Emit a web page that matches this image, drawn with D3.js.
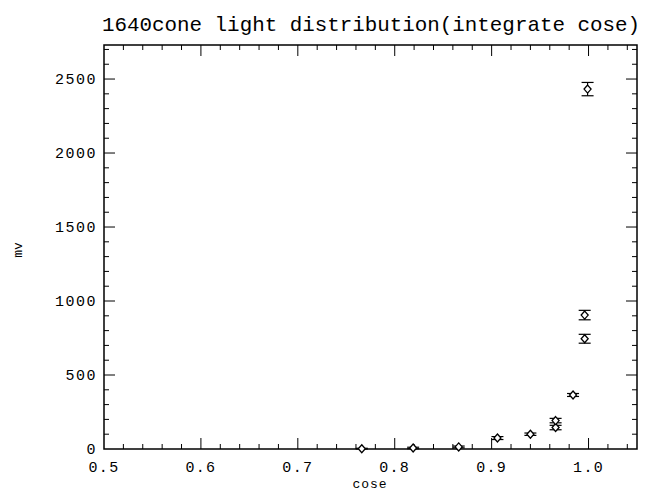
<!DOCTYPE html>
<html><head><meta charset="utf-8">
<script src="https://cdn.jsdelivr.net/npm/d3@7"></script>
<style>body{margin:0;background:#fff}svg{display:block}text{font-family:"Liberation Mono","DejaVu Sans Mono",monospace;fill:#000}</style>
</head><body>
<svg id="c" width="646" height="493"></svg>
<script>
const cosTheta = [0.766, 0.819, 0.866, 0.906, 0.940, 0.966, 0.966, 0.984, 0.996, 0.996, 0.999];
const mv       = [2, 7, 14, 74, 100, 145, 192, 365, 745, 905, 2432];
const mvErr    = [3, 5, 6, 10, 8, 15, 15, 10, 30, 32, 45];
const xTicks = [0.5, 0.6, 0.7, 0.8, 0.9, 1.0];
const xTickLabels = ["0.5", "0.6", "0.7", "0.8", "0.9", "1.0"];
const yTicks = [0, 500, 1000, 1500, 2000, 2500];
const title = "1640cone light distribution(integrate cose)";
const xTitle = "cose", yTitle = "mv";

const svg = d3.select("#c");
const L = 104, R = 637, T = 45, B = 449;
const x = d3.scaleLinear().domain([0.5, 1.05]).range([L, R]);
const y = d3.scaleLinear().domain([0, 2730]).range([B, T]);

const g = svg.append("g");
const xMinor = d3.range(0.5, 1.0501, 0.02).map(v => +v.toFixed(3)).filter(v => !xTicks.some(t => Math.abs(t - v) < 1e-6));
const yMinor = d3.range(0, 2730, 100).filter(v => v % 500 !== 0);

function ticks(sel, vals, len, axis) {
  vals.forEach(v => {
    if (axis === "x") {
      sel.append("line").attr("x1", x(v)).attr("x2", x(v)).attr("y1", B).attr("y2", B - len);
      sel.append("line").attr("x1", x(v)).attr("x2", x(v)).attr("y1", T).attr("y2", T + len);
    } else {
      sel.append("line").attr("y1", y(v)).attr("y2", y(v)).attr("x1", L).attr("x2", L + len);
      sel.append("line").attr("y1", y(v)).attr("y2", y(v)).attr("x1", R).attr("x2", R - len);
    }
  });
}
const tg = g.append("g").attr("stroke", "#000").attr("stroke-width", 1);
ticks(tg, xTicks.filter(v => v > 0.5), 11, "x");
ticks(tg, xMinor, 5, "x");
ticks(tg, yTicks.filter(v => v > 0), 11, "y");
ticks(tg, yMinor, 5, "y");

g.append("rect").attr("x", L).attr("y", T).attr("width", R - L).attr("height", B - T)
  .attr("fill", "none").attr("stroke", "#000").attr("stroke-width", 1.5);

g.selectAll(".xl").data(xTicks).enter().append("text")
  .attr("x", d => x(d)).attr("y", 472).attr("text-anchor", "middle")
  .attr("font-size", 15).attr("letter-spacing", 1.3)
  .text((d, i) => xTickLabels[i]);
g.selectAll(".yl").data(yTicks).enter().append("text")
  .attr("x", 97).attr("y", d => y(d) + 5).attr("text-anchor", "end")
  .attr("font-size", 15).attr("letter-spacing", 1.5)
  .text(d => d);

svg.append("text").attr("x", 102).attr("y", 31).attr("font-size", 21)
  .attr("textLength", 538).attr("lengthAdjust", "spacingAndGlyphs").text(title);
svg.append("text").attr("x", 370).attr("y", 488).attr("text-anchor", "middle")
  .attr("font-size", 13).attr("letter-spacing", 1).text(xTitle);
svg.append("text").attr("transform", "translate(22,250) rotate(-90)").attr("text-anchor", "middle")
  .attr("font-size", 13).text(yTitle);

const data = cosTheta.map((c, i) => ({c, v: mv[i], e: mvErr[i]}));
const pg = svg.append("g").attr("stroke", "#000").attr("fill", "none").attr("stroke-width", 1.2);
data.forEach(d => {
  const px = x(d.c), py = y(d.v), y1 = y(d.v + d.e), y0 = y(Math.max(0, d.v - d.e));
  pg.append("line").attr("x1", px).attr("x2", px).attr("y1", y1).attr("y2", y0);
  pg.append("line").attr("x1", px - 6).attr("x2", px + 6).attr("y1", y1).attr("y2", y1);
  pg.append("line").attr("x1", px - 6).attr("x2", px + 6).attr("y1", y0).attr("y2", y0);
  pg.append("path").attr("d", `M${px},${py - 4}L${px + 3.5},${py}L${px},${py + 4}L${px - 3.5},${py}Z`)
    .attr("fill", "#fff").attr("stroke-width", 1.3);
});
</script>
</body></html>
